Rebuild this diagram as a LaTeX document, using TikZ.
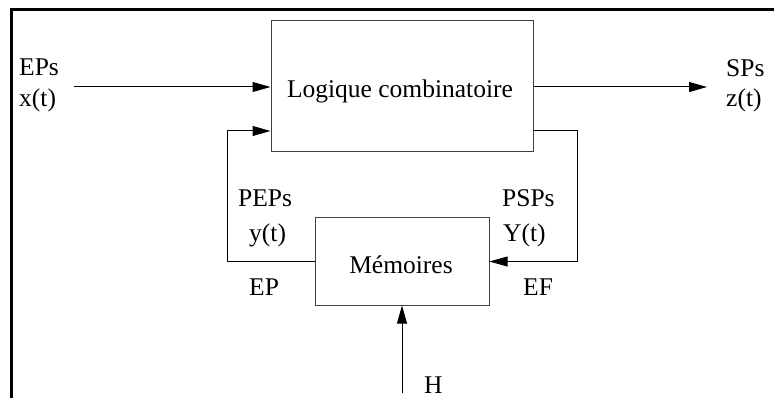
\documentclass[tikz,border=0pt]{standalone}
\usepackage{fontspec}
\setmainfont{Liberation Serif}
\usetikzlibrary{arrows.meta}
\begin{document}
\begin{tikzpicture}[x=1pt,y=-1pt,
  blk/.style={draw=black!75,line width=1pt,inner sep=0pt,minimum width=#1},
  lbl/.style={inner sep=0pt,anchor=base west,font=\fontsize{25.5}{30}\selectfont},
  conn/.style={line width=1pt,-{Triangle[length=18pt,width=10pt]}},
  wire/.style={line width=1pt}]
\useasboundingbox (0,0) rectangle (774,398);
\draw[line width=3pt] (11,398) -- (11,9.5) -- (774,9.5);
\node[blk=262pt,minimum height=131pt] (main) at (402,86.5) {};
\node[blk=174pt,minimum height=87pt] (mem) at (402,261.5) {};
\node[inner sep=0pt,anchor=base,font=\fontsize{25.5}{30}\selectfont] (tmain) at (400,98) {Logique combinatoire};
\node[inner sep=0pt,anchor=base,font=\fontsize{25.5}{30}\selectfont] (tmem) at (401,273) {Mémoires};
\node[lbl] (eps) at (19,76) {EPs};
\node[lbl] (xt) at (19,107) {x(t)};
\node[lbl] (sps) at (726,77) {SPs};
\node[lbl] (zt) at (726,107) {z(t)};
\node[lbl] (peps) at (238,207) {PEPs};
\node[lbl] (yt) at (249,242) {y(t)};
\node[lbl] (psps) at (502,207) {PSPs};
\node[lbl] (Yt) at (503,242) {Y(t)};
\node[lbl] (ep) at (249,295) {EP};
\node[lbl] (ef) at (523,295) {EF};
\node[lbl] (h) at (424,393) {H};
\coordinate (in) at (74,87);
\coordinate (out) at (707,87);
\coordinate (hin) at (402,393);
\coordinate (fbr) at (577,131);
\coordinate (fbl) at (227,131);
\draw[conn] (in) -- (main.west |- in);
\draw[conn] (main.east |- out) -- (out);
\draw[conn] (main.east |- fbr) -- (fbr) |- (mem.east);
\draw[conn] (mem.west) -| (fbl) -- (main.west |- fbl);
\draw[conn] (hin) -- (mem.south);
\end{tikzpicture}
\end{document}
